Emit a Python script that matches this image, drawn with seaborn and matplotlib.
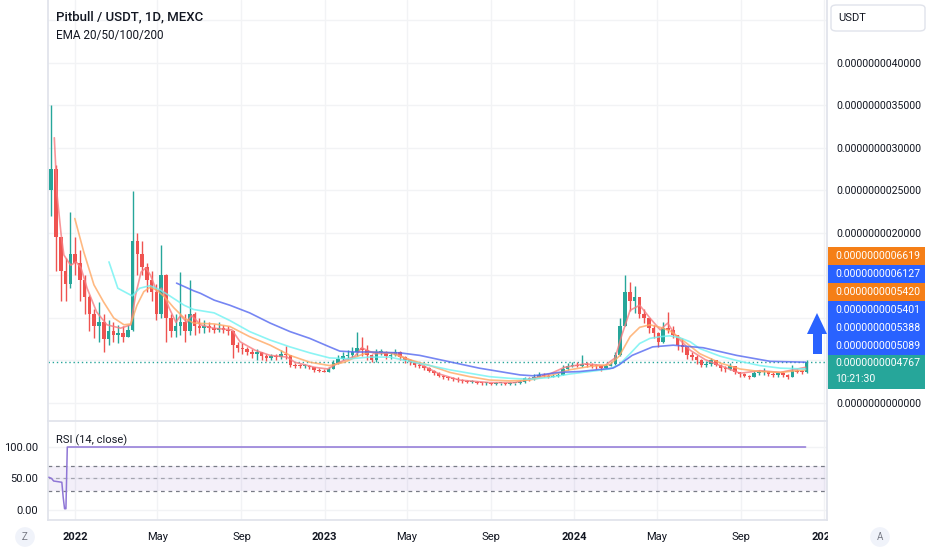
import numpy as np
import pandas as pd
import matplotlib
matplotlib.use("Agg")
import matplotlib.pyplot as plt
from matplotlib.patches import Polygon, FancyBboxPatch, Rectangle
import seaborn as sns

# --- data (prices in units of 1e-9 USDT), weekly candles ---
week_start = pd.date_range("2021-11-23", periods=159, freq="7D")
first_open = 2.50

close = [2.75, 1.95, 1.55, 1.40, 1.75, 1.65, 1.45, 1.25, 1.05, 0.90,
         0.95, 0.75, 0.85, 0.80, 0.82, 0.78, 0.86, 1.90, 1.75, 1.60,
         1.45, 1.30, 1.05, 1.50, 1.00, 0.85, 0.90, 0.95, 0.85, 1.05,
         0.90, 0.88, 0.90, 0.88, 0.86, 0.88, 0.86, 0.85, 0.68, 0.65,
         0.64, 0.60, 0.58, 0.60, 0.55, 0.53, 0.55, 0.54, 0.58, 0.56,
         0.45, 0.44, 0.43, 0.44, 0.42, 0.39, 0.38, 0.37, 0.40, 0.47,
         0.52, 0.55, 0.56, 0.60, 0.65, 0.62, 0.56, 0.50, 0.60, 0.60,
         0.55, 0.57, 0.60, 0.54, 0.50, 0.48, 0.45, 0.44, 0.41, 0.38,
         0.35, 0.32, 0.30, 0.29, 0.28, 0.27, 0.26, 0.25, 0.25, 0.24,
         0.23, 0.23, 0.22, 0.23, 0.23, 0.22, 0.23, 0.23, 0.25, 0.29,
         0.28, 0.31, 0.33, 0.32, 0.31, 0.32, 0.33, 0.40, 0.43, 0.45,
         0.44, 0.46, 0.45, 0.44, 0.43, 0.41, 0.44, 0.46, 0.56, 0.90,
         1.30, 1.20, 1.25, 1.05, 1.00, 0.88, 0.82, 0.72, 0.88, 0.86,
         0.80, 0.68, 0.66, 0.56, 0.54, 0.50, 0.45, 0.46, 0.50, 0.45,
         0.41, 0.40, 0.43, 0.36, 0.34, 0.32, 0.31, 0.35, 0.36, 0.38,
         0.34, 0.33, 0.35, 0.33, 0.31, 0.38, 0.37, 0.36, 0.4767]

high = [3.51, 2.80, 1.95, 1.70, 2.25, 1.95, 1.80, 1.50, 1.27, 1.10,
        1.19, 1.05, 0.98, 0.95, 0.92, 0.90, 0.92, 2.49, 2.00, 1.90,
        1.65, 1.55, 1.40, 1.86, 1.52, 1.05, 1.05, 1.54, 1.05, 1.45,
        1.07, 1.00, 0.98, 0.95, 0.93, 0.95, 0.92, 0.90, 0.86, 0.72,
        0.70, 0.66, 0.64, 0.64, 0.60, 0.58, 0.58, 0.58, 0.62, 0.67,
        0.56, 0.47, 0.46, 0.46, 0.45, 0.42, 0.41, 0.40, 0.42, 0.50,
        0.56, 0.60, 0.62, 0.66, 0.84, 0.78, 0.68, 0.58, 0.63, 0.64,
        0.61, 0.60, 0.64, 0.61, 0.55, 0.52, 0.48, 0.47, 0.45, 0.42,
        0.39, 0.36, 0.33, 0.32, 0.31, 0.30, 0.28, 0.27, 0.27, 0.26,
        0.25, 0.25, 0.24, 0.25, 0.24, 0.24, 0.25, 0.24, 0.27, 0.31,
        0.31, 0.34, 0.36, 0.35, 0.34, 0.34, 0.35, 0.45, 0.47, 0.48,
        0.48, 0.56, 0.48, 0.47, 0.46, 0.45, 0.46, 0.48, 0.60, 1.00,
        1.51, 1.42, 1.38, 1.25, 1.10, 1.00, 0.92, 0.84, 0.95, 1.07,
        0.90, 0.80, 0.76, 0.67, 0.60, 0.56, 0.52, 0.49, 0.53, 0.50,
        0.46, 0.44, 0.47, 0.44, 0.37, 0.35, 0.33, 0.38, 0.39, 0.41,
        0.38, 0.36, 0.37, 0.36, 0.34, 0.45, 0.40, 0.39, 0.50]

low = [2.20, 1.55, 1.20, 1.20, 1.35, 1.50, 1.20, 1.05, 0.85, 0.76,
       0.72, 0.60, 0.68, 0.72, 0.70, 0.72, 0.78, 0.85, 1.50, 1.50,
       1.30, 1.20, 0.98, 1.00, 0.72, 0.78, 0.78, 0.80, 0.72, 0.80,
       0.80, 0.82, 0.82, 0.83, 0.82, 0.83, 0.82, 0.80, 0.53, 0.60,
       0.58, 0.56, 0.53, 0.50, 0.50, 0.49, 0.50, 0.50, 0.52, 0.52,
       0.42, 0.41, 0.41, 0.41, 0.40, 0.37, 0.36, 0.36, 0.36, 0.40,
       0.46, 0.50, 0.52, 0.54, 0.55, 0.55, 0.50, 0.48, 0.48, 0.56,
       0.52, 0.52, 0.55, 0.50, 0.47, 0.45, 0.42, 0.41, 0.39, 0.36,
       0.33, 0.30, 0.28, 0.27, 0.26, 0.25, 0.24, 0.23, 0.23, 0.22,
       0.21, 0.21, 0.21, 0.21, 0.21, 0.21, 0.21, 0.21, 0.22, 0.24,
       0.26, 0.27, 0.30, 0.30, 0.29, 0.30, 0.31, 0.33, 0.39, 0.42,
       0.42, 0.42, 0.42, 0.41, 0.40, 0.38, 0.41, 0.43, 0.45, 0.55,
       0.90, 1.08, 1.06, 1.00, 0.94, 0.82, 0.77, 0.66, 0.70, 0.82,
       0.76, 0.62, 0.60, 0.52, 0.50, 0.46, 0.42, 0.42, 0.44, 0.43,
       0.38, 0.36, 0.39, 0.34, 0.31, 0.30, 0.28, 0.30, 0.33, 0.33,
       0.32, 0.31, 0.31, 0.30, 0.28, 0.30, 0.35, 0.34, 0.35]

ema20_dates = ["2021-12-01", "2021-12-05", "2021-12-11", "2021-12-15", "2021-12-25",
               "2022-01-02", "2022-01-09", "2022-01-18", "2022-02-01", "2022-02-16",
               "2022-03-08", "2022-03-23", "2022-03-30", "2022-04-07", "2022-04-14",
               "2022-04-21", "2022-04-30", "2022-05-07", "2022-05-18", "2022-05-28",
               "2022-06-04", "2022-06-13", "2022-06-20", "2022-07-03", "2022-07-22",
               "2022-08-18", "2022-08-30", "2022-09-21", "2022-10-13", "2022-11-07",
               "2022-11-18", "2022-12-17", "2023-01-05", "2023-01-23", "2023-02-14",
               "2023-02-24", "2023-03-15", "2023-04-13", "2023-04-28", "2023-05-20",
               "2023-06-18", "2023-07-17", "2023-08-30", "2023-10-06", "2023-10-28",
               "2023-11-26", "2023-12-18", "2024-01-17", "2024-02-15", "2024-03-01",
               "2024-03-11", "2024-03-23", "2024-04-06", "2024-04-21", "2024-05-06",
               "2024-05-17", "2024-05-28", "2024-06-19", "2024-07-11", "2024-08-02",
               "2024-08-31", "2024-09-29", "2024-10-29", "2024-12-05"]
ema20_vals = [3.12, 2.45, 1.98, 1.74, 1.62, 1.66, 1.59, 1.35, 1.07, 0.92,
              0.88, 0.92, 1.27, 1.54, 1.59, 1.50, 1.31, 1.35, 1.12, 0.95,
              1.03, 0.95, 1.03, 0.92, 0.88, 0.86, 0.72, 0.62, 0.56, 0.54,
              0.48, 0.42, 0.40, 0.48, 0.55, 0.65, 0.58, 0.59, 0.53, 0.46,
              0.34, 0.27, 0.24, 0.24, 0.28, 0.34, 0.42, 0.46, 0.44, 0.53,
              0.80, 1.09, 1.15, 1.00, 0.86, 0.94, 0.80, 0.62, 0.51, 0.44,
              0.35, 0.38, 0.36, 0.42]

ema50_dates = ["2021-12-31", "2022-01-13", "2022-01-28", "2022-02-11", "2022-02-26",
               "2022-03-13", "2022-03-23", "2022-04-01", "2022-04-11", "2022-04-20",
               "2022-04-30", "2022-05-11", "2022-05-25", "2022-06-09", "2022-06-23",
               "2022-07-23", "2022-08-15", "2022-09-13", "2022-10-13", "2022-11-11",
               "2022-12-10", "2023-01-08", "2023-01-30", "2023-02-21", "2023-03-08",
               "2023-04-06", "2023-05-05", "2023-06-04", "2023-07-03", "2023-08-01",
               "2023-08-30", "2023-09-29", "2023-10-28", "2023-11-26", "2023-12-25",
               "2024-01-24", "2024-02-22", "2024-03-07", "2024-03-23", "2024-04-06",
               "2024-04-21", "2024-05-06", "2024-05-20", "2024-06-03", "2024-06-19",
               "2024-07-03", "2024-08-02", "2024-08-31", "2024-09-29", "2024-10-29",
               "2024-12-05"]
ema50_vals = [2.17, 1.78, 1.39, 1.19, 1.00, 0.92, 0.93, 1.15, 1.31, 1.36,
              1.33, 1.25, 1.12, 1.00, 0.94, 0.93, 0.90, 0.78, 0.68, 0.56,
              0.48, 0.44, 0.48, 0.56, 0.60, 0.59, 0.51, 0.44, 0.36, 0.31,
              0.27, 0.26, 0.27, 0.32, 0.39, 0.43, 0.45, 0.55, 0.78, 0.89,
              0.92, 0.89, 0.85, 0.77, 0.67, 0.58, 0.47, 0.40, 0.37, 0.36,
              0.39]

ema100_dates = ["2022-02-19", "2022-03-04", "2022-03-25", "2022-04-05", "2022-04-20",
                "2022-05-05", "2022-05-19", "2022-06-09", "2022-06-23", "2022-07-23",
                "2022-08-15", "2022-09-13", "2022-10-13", "2022-11-11", "2022-12-10",
                "2023-01-08", "2023-02-07", "2023-03-08", "2023-04-06", "2023-05-05",
                "2023-06-04", "2023-07-03", "2023-08-01", "2023-08-30", "2023-09-29",
                "2023-10-28", "2023-11-26", "2023-12-25", "2024-01-24", "2024-02-22",
                "2024-03-07", "2024-03-23", "2024-04-06", "2024-04-21", "2024-05-06",
                "2024-05-20", "2024-06-03", "2024-06-19", "2024-07-03", "2024-08-02",
                "2024-08-31", "2024-09-29", "2024-10-29", "2024-12-05"]
ema100_vals = [1.66, 1.35, 1.26, 1.35, 1.38, 1.33, 1.26, 1.15, 1.10, 1.06,
               0.97, 0.84, 0.74, 0.66, 0.59, 0.53, 0.52, 0.54, 0.54, 0.49,
               0.44, 0.39, 0.35, 0.31, 0.29, 0.28, 0.30, 0.34, 0.37, 0.40,
               0.45, 0.58, 0.70, 0.76, 0.78, 0.79, 0.77, 0.72, 0.64, 0.55,
               0.49, 0.44, 0.41, 0.40]

ema200_dates = ["2022-05-29", "2022-06-23", "2022-07-03", "2022-07-23", "2022-08-15",
                "2022-09-13", "2022-10-13", "2022-11-11", "2022-12-10", "2023-01-08",
                "2023-01-23", "2023-02-14", "2023-03-08", "2023-04-21", "2023-05-20",
                "2023-06-18", "2023-07-17", "2023-08-15", "2023-09-14", "2023-10-14",
                "2023-11-02", "2023-12-10", "2024-01-09", "2024-02-27", "2024-03-07",
                "2024-03-26", "2024-04-25", "2024-05-25", "2024-07-08", "2024-08-26",
                "2024-10-14", "2024-12-05"]
ema200_vals = [1.41, 1.32, 1.29, 1.21, 1.15, 1.06, 0.94, 0.84, 0.76, 0.66,
               0.61, 0.60, 0.60, 0.59, 0.56, 0.51, 0.46, 0.41, 0.37, 0.33,
               0.32, 0.36, 0.37, 0.41, 0.45, 0.56, 0.66, 0.68, 0.65, 0.56,
               0.49, 0.48]

rsi_dates = ["2021-11-23", "2021-11-27", "2021-11-30", "2021-12-06", "2021-12-12",
             "2021-12-14", "2021-12-16", "2021-12-18", "2021-12-20", "2024-12-05"]
rsi_vals = [52, 50, 46, 45, 44, 20, 2, 2, 100, 100]

tick_dates = ["2022-01-01", "2022-05-01", "2022-09-01", "2023-01-01", "2023-05-01",
              "2023-09-01", "2024-01-01", "2024-05-01", "2024-09-01", "2025-01-01"]
tick_labels = ["2022", "May", "Sep", "2023", "May", "Sep", "2024", "May", "Sep", "2025"]

price_ticks = [0, 0.5, 1.0, 1.5, 2.0, 2.5, 3.0, 3.5, 4.0, 4.5]
shown_ticks = [0, 2.0, 2.5, 3.0, 3.5, 4.0]

badge_values = ["0.0000000006619", "0.0000000006127", "0.0000000005420",
                "0.0000000005401", "0.0000000005388", "0.0000000005089",
                "0.0000000004767"]
countdown = "10:21:30"

# --- colours ---
UP, DOWN = "#26A69A", "#EF5350"
ORANGE, BLUE, TEAL = "#F57F17", "#2962FF", "#26A69A"
TXT, GRID, BORDER = "#131722", "#F2F3F5", "#E0E3EB"

sns.set_theme(style="white")
plt.rcParams["font.family"] = ["Roboto", "DejaVu Sans"]

W, H = 932, 550
fig = plt.figure(figsize=(W / 100, H / 100), dpi=100)


def fx(px):
    return px / W


def fy(py):
    return 1 - py / H


ax = fig.add_axes([fx(48), fy(421), fx(827) - fx(48), fy(0) - fy(421)])
ax2 = fig.add_axes([fx(48), fy(520), fx(827) - fx(48), fy(422) - fy(520)], sharex=ax)

# candles
df = pd.DataFrame({"week": week_start, "close": close, "high": high, "low": low})
df["mid"] = df["week"] + pd.Timedelta(days=3.5)
df["open"] = df["close"].shift(1).fillna(first_open)
col = np.where(df["close"] >= df["open"], UP, DOWN)
ax.vlines(df["mid"], df["low"], df["high"], colors=col, lw=1.0, zorder=3)
body = (df["close"] - df["open"]).abs().clip(lower=0.012)
ax.bar(df["mid"], body, bottom=np.minimum(df["open"], df["close"]),
       width=5.2, color=col, linewidth=0, zorder=3)

# EMA lines
for dates, vals, c in [(ema20_dates, ema20_vals, "#F77C80"),
                       (ema50_dates, ema50_vals, "#FFA863"),
                       (ema100_dates, ema100_vals, "#6FF2F2"),
                       (ema200_dates, ema200_vals, "#5468F0")]:
    sns.lineplot(x=pd.to_datetime(dates), y=vals, ax=ax, color=c, lw=1.2,
                 alpha=0.8, zorder=4)

ax.axhline(close[-1], color=TEAL, lw=1, ls=(0, (1, 2)), zorder=2)

ax.set_xlim(pd.Timestamp("2021-11-21 18:00"), pd.Timestamp("2025-01-05 07:00"))
ax.set_ylim(-0.212, 4.741)
ax.set_yticks(price_ticks)
ax.set_yticklabels([f"{v * 1e-9:.13f}" if v in shown_ticks else "" for v in price_ticks])
ax.yaxis.tick_right()
ax.tick_params(axis="y", length=0, pad=7, labelsize=7.6, labelcolor=TXT)
ax.tick_params(axis="x", length=0, labelbottom=False)
ax.set_xticks(pd.to_datetime(tick_dates))
ax.grid(True, color=GRID, lw=1)
ax.set_xlabel("")
ax.set_ylabel("")
for s in ["left", "right", "bottom"]:
    ax.spines[s].set_color(BORDER)
ax.spines["top"].set_visible(False)

# RSI panel
ax2.axhspan(30, 70, color="#7E57C2", alpha=0.09, lw=0)
for lvl, a in [(70, 1.0), (50, 0.6), (30, 1.0)]:
    ax2.axhline(lvl, color="#787B86", lw=0.9, ls=(0, (3, 3)), alpha=a)
sns.lineplot(x=pd.to_datetime(rsi_dates), y=rsi_vals, ax=ax2, color="#8F76D6",
             lw=1.1, zorder=4)
ax2.set_ylim(-15.9, 139.7)
ax2.set_yticks([0, 50, 100])
ax2.set_yticklabels(["0.00", "50.00", "100.00"])
ax2.tick_params(axis="y", length=0, pad=7, labelsize=8, labelcolor=TXT)
ax2.set_xticks(pd.to_datetime(tick_dates))
ax2.set_xticklabels(tick_labels)
ax2.tick_params(axis="x", length=0, pad=9, labelsize=8, labelcolor=TXT)
for t in ax2.get_xticklabels():
    if t.get_text().isdigit():
        t.set_fontweight("bold")
ax2.grid(True, color=GRID, lw=1)
ax2.set_xlabel("")
ax2.set_ylabel("")
for s in ["left", "right", "bottom"]:
    ax2.spines[s].set_color(BORDER)
ax2.spines["top"].set_visible(False)

# header texts
fig.text(fx(56), fy(17), "Pitbull / USDT, 1D, MEXC", fontsize=9.5,
         fontweight="medium", color=TXT, va="center")
fig.text(fx(56), fy(36), "EMA 20/50/100/200", fontsize=8.5, color=TXT, va="center")
fig.text(fx(56), fy(440), "RSI (14, close)", fontsize=8, color=TXT, va="center")

# price scale: currency box
fig.add_artist(FancyBboxPatch((fx(831), fy(31)), fx(925) - fx(831), fy(5) - fy(31),
                              boxstyle="round,pad=0,rounding_size=0.006",
                              transform=fig.transFigure, fc="white", ec=BORDER, lw=1))
fig.text(fx(838), fy(18), "USDT", fontsize=8, color=TXT, va="center")

# last-value badges
badge_colors = [ORANGE, BLUE, ORANGE, BLUE, BLUE, BLUE]
for i, (val, c) in enumerate(zip(badge_values[:-1], badge_colors)):
    top = 247 + 18 * i
    fig.add_artist(Rectangle((fx(828), fy(top + 18)), fx(925) - fx(828), 18 / H,
                             transform=fig.transFigure, fc=c, ec="none"))
    fig.text(fx(835), fy(top + 9), val, fontsize=7.6, color="white", va="center")
fig.add_artist(Rectangle((fx(828), fy(389)), fx(925) - fx(828), 34 / H,
                         transform=fig.transFigure, fc=TEAL, ec="none"))
fig.text(fx(835), fy(363), badge_values[-1], fontsize=7.6, color="white", va="center")
fig.text(fx(835), fy(379), countdown, fontsize=7.6, color="white", va="center")

# blue arrow drawing
arrow_px = [(817, 313), (827, 334), (822, 334), (822, 354), (813, 354), (813, 334), (807, 334)]
fig.add_artist(Polygon([(fx(x), fy(y)) for x, y in arrow_px], closed=True,
                       transform=fig.transFigure, fc=BLUE, ec="none"))

# cover the time label under the price scale
fig.add_artist(Rectangle((fx(828), 0), 1 - fx(828), fy(521),
                         transform=fig.transFigure, fc="white", ec="none", zorder=5))
for x, s in [(25, "Z"), (880, "A")]:
    fig.text(fx(x), fy(537), s, fontsize=7, color="#787B86", ha="center", va="center",
             zorder=6, bbox=dict(boxstyle="circle,pad=0.5", fc="#F0F3FA", ec="none"))

fig.savefig("out.png", dpi=100)
